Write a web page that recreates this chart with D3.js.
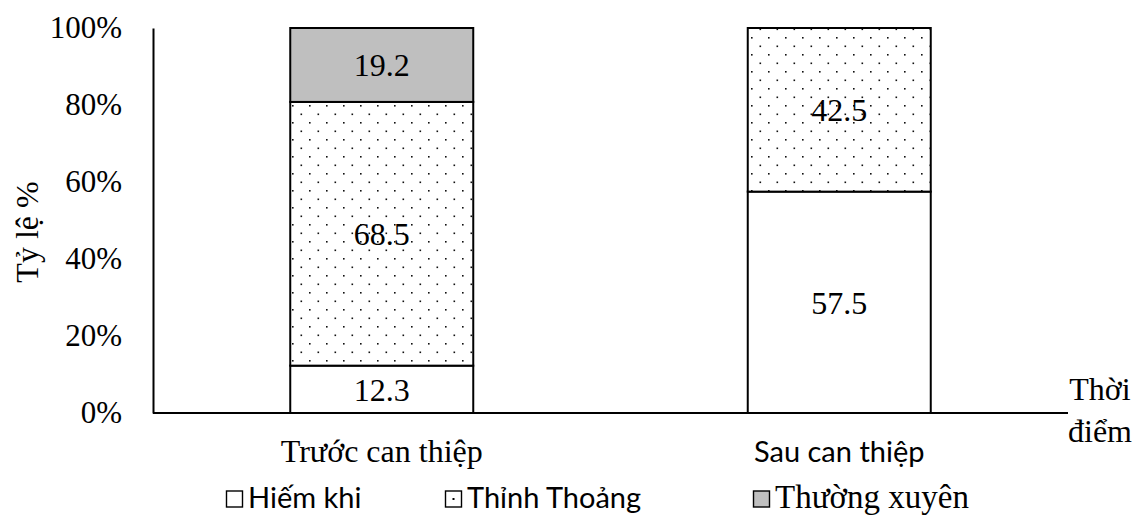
<!DOCTYPE html>
<html>
<head>
<meta charset="utf-8">
<script src="https://cdn.jsdelivr.net/npm/d3@7"></script>
<style>
  html, body { margin: 0; padding: 0; background: #fff; }
  svg { display: block; }
</style>
</head>
<body>
<svg id="chart" width="1135" height="515"></svg>
<script>
// Categories (time points) and the three frequency groups, in percent
const categories = ["Trước can thiệp", "Sau can thiệp"];
const seriesNames = ["Hiếm khi", "Thỉnh Thoảng", "Thường xuyên"];
const hiemKhi = [12.3, 57.5];
const thinhThoang = [68.5, 42.5];
const thuongXuyen = [19.2, 0];
const yTicks = [0, 20, 40, 60, 80, 100];

const serif = "'Liberation Serif', 'Times New Roman', serif";
const sans = "Lato, 'Open Sans', sans-serif";

const svg = d3.select("#chart");
const defs = svg.append("defs");

// Staggered dot fill for the "Thỉnh Thoảng" segments
const pat = defs.append("pattern")
  .attr("id", "dots")
  .attr("patternUnits", "userSpaceOnUse")
  .attr("width", 17).attr("height", 17);
pat.append("rect").attr("width", 17).attr("height", 17).attr("fill", "#fff");
[[3, 3], [11.5, 11.5]].forEach(([x, y]) => {
  pat.append("rect").attr("x", x).attr("y", y)
    .attr("width", 1.6).attr("height", 1.6).attr("fill", "#111");
});

const x0 = 153, x1 = 1068, yTop = 28, yBot = 413;

const x = d3.scaleBand()
  .domain(categories)
  .range([x0, x1])
  .paddingInner(0.6)
  .paddingOuter(0.3);

const y = d3.scaleLinear().domain([0, 100]).range([yBot, yTop]);

// Stack the three groups per category
const rows = categories.map((c, i) => ({
  cat: c,
  [seriesNames[0]]: hiemKhi[i],
  [seriesNames[1]]: thinhThoang[i],
  [seriesNames[2]]: thuongXuyen[i]
}));
const stack = d3.stack().keys(seriesNames)(rows);

const fills = {
  "Hiếm khi": "#ffffff",
  "Thỉnh Thoảng": "url(#dots)",
  "Thường xuyên": "#bfbfbf"
};

const layers = svg.append("g").selectAll("g")
  .data(stack).join("g");

layers.selectAll("rect")
  .data(d => d.map(s => ({ key: d.key, s })).filter(v => v.s[1] - v.s[0] > 0))
  .join("rect")
  .attr("x", v => x(v.s.data.cat))
  .attr("width", x.bandwidth())
  .attr("y", v => y(v.s[1]))
  .attr("height", v => y(v.s[0]) - y(v.s[1]))
  .attr("fill", v => fills[v.key])
  .attr("stroke", "#000")
  .attr("stroke-width", 2);

// Value labels in each segment
layers.selectAll("text")
  .data(d => d.map(s => ({ key: d.key, s })).filter(v => v.s[1] - v.s[0] > 0))
  .join("text")
  .attr("x", v => x(v.s.data.cat) + x.bandwidth() / 2)
  .attr("y", v => (y(v.s[0]) + y(v.s[1])) / 2)
  .attr("dy", "0.35em")
  .attr("text-anchor", "middle")
  .attr("font-family", serif)
  .attr("font-size", 32)
  .attr("fill", "#000")
  .text(v => (v.s[1] - v.s[0]).toFixed(1));

// Y axis: line and percent labels, no tick marks
const yAxis = svg.append("g")
  .attr("transform", `translate(${x0},0)`)
  .call(d3.axisLeft(y).tickValues(yTicks).tickSize(0).tickPadding(31)
    .tickFormat(d => d + "%"));
yAxis.select(".domain").attr("stroke", "#000").attr("stroke-width", 2);
yAxis.selectAll("text")
  .attr("font-family", serif)
  .attr("font-size", 31)
  .attr("fill", "#000");

// X axis line
svg.append("line")
  .attr("x1", x0).attr("x2", x1)
  .attr("y1", yBot).attr("y2", yBot)
  .attr("stroke", "#000").attr("stroke-width", 2);

// Category labels
svg.append("text")
  .attr("x", x(categories[0]) + x.bandwidth() / 2)
  .attr("y", 462)
  .attr("text-anchor", "middle")
  .attr("font-family", serif)
  .attr("font-size", 32)
  .text(categories[0]);
svg.append("text")
  .attr("x", x(categories[1]) + x.bandwidth() / 2)
  .attr("y", 462)
  .attr("text-anchor", "middle")
  .attr("font-family", sans)
  .attr("font-size", 29)
  .text(categories[1]);

// Axis titles
svg.append("text")
  .attr("transform", "translate(38,232) rotate(-90)")
  .attr("text-anchor", "middle")
  .attr("font-family", serif)
  .attr("font-size", 32)
  .text("Tỷ lệ %");

const xt = svg.append("text")
  .attr("text-anchor", "middle")
  .attr("font-family", serif)
  .attr("font-size", 32);
xt.append("tspan").attr("x", 1100).attr("y", 400).text("Thời");
xt.append("tspan").attr("x", 1100).attr("y", 442).text("điểm");

// Legend
const legendItems = [
  { name: seriesNames[0], bx: 226, font: sans, size: 29 },
  { name: seriesNames[1], bx: 445, font: sans, size: 29 },
  { name: seriesNames[2], bx: 753, font: serif, size: 33 }
];
const lg = svg.append("g").selectAll("g").data(legendItems).join("g");
lg.append("rect")
  .attr("x", d => d.bx + 0.5).attr("y", 491)
  .attr("width", 16).attr("height", 16)
  .attr("fill", d => d.name === seriesNames[1] ? "#fff" : fills[d.name])
  .attr("stroke", "#000").attr("stroke-width", 1.4);
lg.filter(d => d.name === seriesNames[1]).append("rect")
  .attr("x", d => d.bx + 7.5).attr("y", 498)
  .attr("width", 2).attr("height", 2).attr("fill", "#000");
lg.append("text")
  .attr("x", d => d.bx + 22)
  .attr("y", 508)
  .attr("font-family", d => d.font)
  .attr("font-size", d => d.size)
  .text(d => d.name);
</script>
</body>
</html>
